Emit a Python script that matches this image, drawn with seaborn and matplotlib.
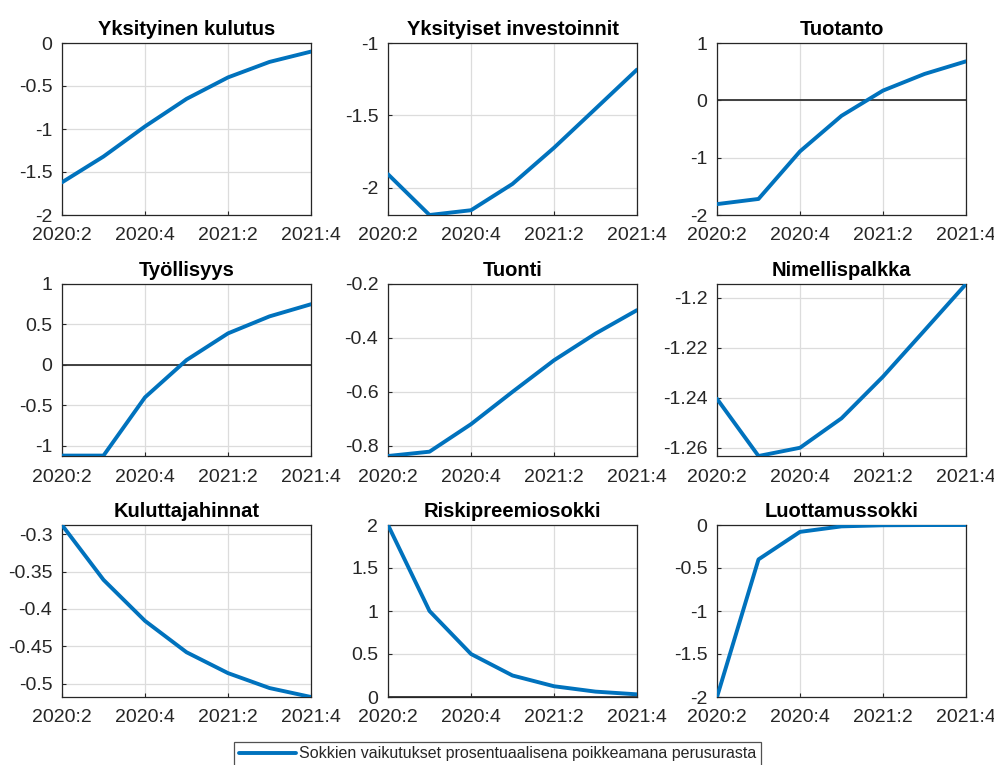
import numpy as np
import pandas as pd
import matplotlib
matplotlib.use("Agg")
import matplotlib.pyplot as plt
import seaborn as sns

# Quarters shown on the x axis
quarters = ["2020:2", "2020:3", "2020:4", "2021:1", "2021:2", "2021:3", "2021:4"]
tick_labels = ["2020:2", "2020:4", "2021:2", "2021:4"]

# Panel titles
titles = ["Yksityinen kulutus", "Yksityiset investoinnit", "Tuotanto",
          "Työllisyys", "Tuonti", "Nimellispalkka",
          "Kuluttajahinnat", "Riskipreemiosokki", "Luottamussokki"]

# Responses (percent deviation from baseline)
kulutus = [-1.62, -1.32, -0.97, -0.65, -0.40, -0.22, -0.10]
investoinnit = [-1.908, -2.19, -2.157, -1.975, -1.725, -1.455, -1.184]
tuotanto = [-1.81, -1.72, -0.89, -0.27, 0.17, 0.46, 0.68]
tyollisyys = [-1.12, -1.12, -0.40, 0.06, 0.39, 0.60, 0.75]
tuonti = [-0.838, -0.822, -0.72, -0.60, -0.483, -0.384, -0.297]
palkka = [-1.2404, -1.2633, -1.2600, -1.2482, -1.2315, -1.2130, -1.1944]
hinnat = [-0.2875, -0.361, -0.416, -0.458, -0.486, -0.506, -0.518]
riski = [2.0, 1.0, 0.5, 0.25, 0.125, 0.0625, 0.031]
luottamus = [-2.0, -0.40, -0.08, -0.016, -0.003, -0.0006, -0.0001]

series = [kulutus, investoinnit, tuotanto, tyollisyys, tuonti, palkka,
          hinnat, riski, luottamus]

# Axis limits and y ticks for each panel
ylims = [(-2, 0), (-2.19, -1), (-2, 1),
         (-1.125, 1), (-0.838, -0.2), (-1.2633, -1.1944),
         (-0.518, -0.2875), (0, 2), (-2, 0)]
yticks = [[-2, -1.5, -1, -0.5, 0], [-2, -1.5, -1], [-2, -1, 0, 1],
          [-1, -0.5, 0, 0.5, 1], [-0.8, -0.6, -0.4, -0.2], [-1.26, -1.24, -1.22, -1.2],
          [-0.5, -0.45, -0.4, -0.35, -0.3], [0, 0.5, 1, 1.5, 2], [-2, -1.5, -1, -0.5, 0]]
ytick_labels = [["-2", "-1.5", "-1", "-0.5", "0"], ["-2", "-1.5", "-1"], ["-2", "-1", "0", "1"],
                ["-1", "-0.5", "0", "0.5", "1"], ["-0.8", "-0.6", "-0.4", "-0.2"],
                ["-1.26", "-1.24", "-1.22", "-1.2"],
                ["-0.5", "-0.45", "-0.4", "-0.35", "-0.3"], ["0", "0.5", "1", "1.5", "2"],
                ["-2", "-1.5", "-1", "-0.5", "0"]]

sns.set_theme(style="ticks")
plt.rcParams['font.family'] = ['Liberation Sans', 'DejaVu Sans']

blue = "#0072BD"
text_gray = "#262626"

fig = plt.figure(figsize=(9.95, 7.65), dpi=100)
W, H = 995, 765
lefts = [62, 388, 717]
tops = [43, 284, 525]
aw, ah = 249, 172

x = np.arange(len(quarters))

for i, (title, vals) in enumerate(zip(titles, series)):
    r, c = divmod(i, 3)
    ax = fig.add_axes([lefts[c] / W, (H - tops[r] - ah) / H, aw / W, ah / H])
    df = pd.DataFrame({"x": x, "y": vals})

    # zero line first so the response sits on top
    ax.axhline(0, color="#333333", lw=1.3, zorder=2)
    sns.lineplot(data=df, x="x", y="y", ax=ax, color=blue, lw=2.8, zorder=3,
                 label="Sokkien vaikutukset prosentuaalisena poikkeamana perusurasta" if i == 0 else None)

    ax.set_xlim(0, 6)
    ax.set_ylim(*ylims[i])
    ax.set_xticks([0, 2, 4, 6])
    ax.set_xticklabels(tick_labels)
    ax.set_yticks(yticks[i])
    ax.set_yticklabels(ytick_labels[i])
    ax.set_xlabel("")
    ax.set_ylabel("")
    ax.grid(True, color="#dcdcdc", lw=0.9, zorder=0)
    ax.tick_params(direction="in", length=3, width=0.8, labelsize=14,
                   colors=text_gray)
    ax.tick_params(axis="x", pad=9)
    ax.tick_params(axis="y", pad=7)
    for sp in ax.spines.values():
        sp.set_visible(True)
        sp.set_color("#262626")
        sp.set_linewidth(0.9)
    ax.set_title(title, fontsize=14.5, fontweight="bold", color="black", pad=6)

    if i == 0:
        handles, labels = ax.get_legend_handles_labels()
        ax.get_legend().remove()

leg = fig.legend(handles, labels, loc="lower center", bbox_to_anchor=(0.5, -0.012),
                 frameon=True, fancybox=False, fontsize=11.5, handlelength=3.6,
                 handletextpad=0.2, borderpad=0.3)
leg.get_frame().set_edgecolor("#262626")
leg.get_frame().set_linewidth(0.9)
for t in leg.get_texts():
    t.set_color(text_gray)

fig.savefig("out.png", dpi=100, facecolor="white")
